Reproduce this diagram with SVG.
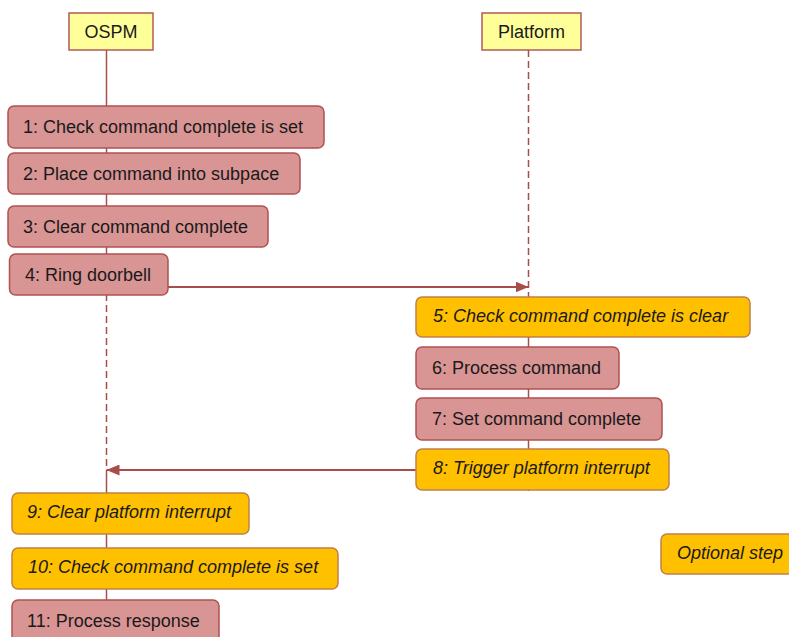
<svg xmlns="http://www.w3.org/2000/svg" width="789" height="637" viewBox="0 0 789 637">
<style>
text{font-family:"Liberation Sans",Arial,sans-serif;font-size:18px;fill:#1a1a1a;dominant-baseline:central}
.it{font-style:italic}
.head{fill:#FFFF99;stroke:#B25A5A;stroke-width:1.5}
.pink{fill:#D99494;stroke:#B05252;stroke-width:1.5}
.opt{fill:#FFC000;stroke:#C0804A;stroke-width:1.5}
.life{stroke:#A84C4C;stroke-width:1.5;fill:none}
.dash{stroke-dasharray:7 4}
.msg{stroke:#A84C4C;stroke-width:2;fill:none}
</style>
<defs>
<marker id="ah" viewBox="0 0 13 11" refX="13" refY="5.5" markerWidth="13" markerHeight="11" markerUnits="userSpaceOnUse" orient="auto">
<path d="M0,0 L13,5.5 L0,11 Z" fill="#A84C4C"/>
</marker>
</defs>
<rect width="789" height="637" fill="#fff"/>
<g id="connectors">
<line class="life" x1="106.5" y1="50" x2="106.5" y2="294"/>
<line class="life dash" x1="106.5" y1="294" x2="106.5" y2="470"/>
<line class="life" x1="106.5" y1="470" x2="106.5" y2="637"/>
<line class="life dash" x1="528.5" y1="50" x2="528.5" y2="297"/>
<line class="life" x1="528.5" y1="297" x2="528.5" y2="491"/>
<line class="msg" x1="168" y1="287" x2="528.5" y2="287" marker-end="url(#ah)"/>
<line class="msg" x1="416" y1="470" x2="106.5" y2="470" marker-end="url(#ah)"/>
</g>
<g id="ospm"><rect class="head" x="69" y="13" width="84" height="37"/><text x="111" y="32" text-anchor="middle">OSPM</text></g>
<g id="platform"><rect class="head" x="482" y="13" width="99" height="37"/><text x="531.5" y="32" text-anchor="middle">Platform</text></g>
<g id="s1"><rect class="pink" x="8" y="106" width="316" height="42" rx="6"/><text x="23" y="127">1: Check command complete is set</text></g>
<g id="s2"><rect class="pink" x="8" y="153" width="292" height="41" rx="6"/><text x="23" y="174">2: Place command into subpace</text></g>
<g id="s3"><rect class="pink" x="8" y="206" width="260" height="41" rx="6"/><text x="23" y="226.5">3: Clear command complete</text></g>
<g id="s4"><rect class="pink" x="9.5" y="254" width="158.5" height="41" rx="6"/><text x="25" y="275">4: Ring doorbell</text></g>
<g id="s5"><rect class="opt" x="416" y="297" width="334" height="40" rx="6"/><text class="it" x="433" y="316">5: Check command complete is clear</text></g>
<g id="s6"><rect class="pink" x="416" y="347" width="203" height="42" rx="6"/><text x="432" y="368">6: Process command</text></g>
<g id="s7"><rect class="pink" x="416" y="398" width="246" height="42" rx="6"/><text x="432" y="419">7: Set command complete</text></g>
<g id="s8"><rect class="opt" x="416" y="449" width="253" height="41" rx="6"/><text class="it" x="433" y="468">8: Trigger platform interrupt</text></g>
<g id="s9"><rect class="opt" x="12" y="493" width="237" height="41" rx="6"/><text class="it" x="27" y="512">9: Clear platform interrupt</text></g>
<g id="s10"><rect class="opt" x="12" y="548" width="326" height="41" rx="6"/><text class="it" x="28" y="567">10: Check command complete is set</text></g>
<g id="s11"><rect class="pink" x="12" y="600" width="207" height="44" rx="6"/><text x="27" y="621">11: Process response</text></g>
<g id="legend"><rect class="opt" x="661" y="534" width="140" height="40" rx="6"/><text class="it" x="677" y="553">Optional step</text></g>
</svg>
